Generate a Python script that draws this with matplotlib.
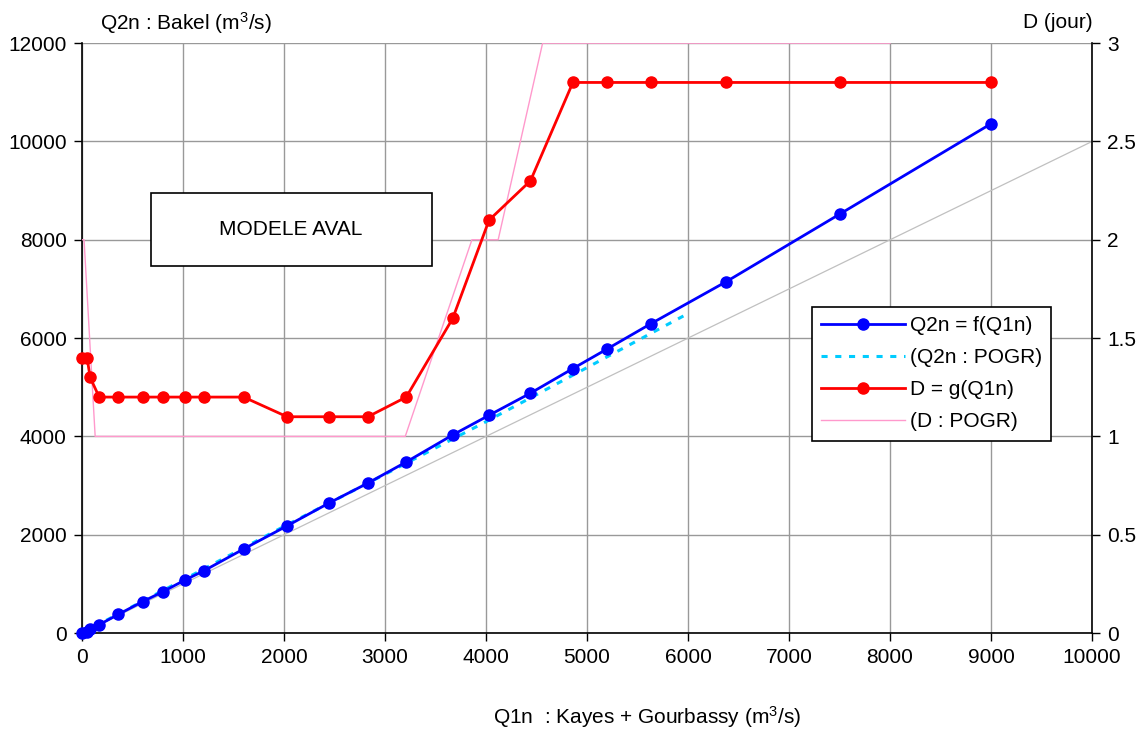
import matplotlib
matplotlib.use("Agg")
import matplotlib.pyplot as plt
from matplotlib.lines import Line2D
from matplotlib.patches import Rectangle

plt.rcParams["font.family"] = ["Liberation Sans", "DejaVu Sans"]
plt.rcParams["mathtext.fontset"] = "custom"
plt.rcParams["mathtext.rm"] = "Liberation Sans"
plt.rcParams["mathtext.it"] = "Liberation Sans:italic"

# Q1n (Kayes + Gourbassy) and the fitted relations
q1n = [0, 50, 80, 170, 360, 600, 800, 1020, 1210, 1600, 2030, 2450, 2830,
       3210, 3670, 4030, 4440, 4860, 5200, 5630, 6380, 7500, 9000]
q2n = [0, 30, 80, 170, 380, 640, 840, 1080, 1270, 1710, 2180, 2650, 3050,
       3480, 4030, 4430, 4880, 5380, 5780, 6290, 7150, 8520, 10360]
d_jour = [1.4, 1.4, 1.3, 1.2, 1.2, 1.2, 1.2, 1.2, 1.2, 1.2, 1.1, 1.1, 1.1,
          1.2, 1.6, 2.1, 2.3, 2.8, 2.8, 2.8, 2.8, 2.8, 2.8]

# POGR reference curves
pogr_q1 = [0, 1000, 2000, 3000, 4000, 5000, 6000]
pogr_q2 = [0, 1080, 2170, 3230, 4300, 5400, 6500]
pogr_d_q1 = [0, 20, 130, 3200, 3860, 4120, 4560, 8000]
pogr_d = [2, 2, 1, 1, 2, 2, 3, 3]

# first bisector Q2n = Q1n
diag = [0, 10000]

FS = 15

fig = plt.figure(figsize=(11.41, 7.31), dpi=100)
ax = fig.add_axes([0.0719, 0.134, 0.8852, 0.807])
ax2 = ax.twinx()

ax.plot(diag, diag, color="#c0c0c0", lw=0.9, zorder=2)
ax.plot(pogr_q1, pogr_q2, color="#00ccff", lw=2.2, ls=(0, (2, 2.5)), zorder=3)
ax.plot(q1n, q2n, color="#0000ff", lw=2, marker="o", ms=8, zorder=4, clip_on=False)

ax2.plot(pogr_d_q1, pogr_d, color="#ff99cc", lw=1, zorder=2)
ax2.plot(q1n, d_jour, color="#ff0000", lw=2, marker="o", ms=8, zorder=4, clip_on=False)

ax.set_xlim(0, 10000)
ax.set_ylim(0, 12000)
ax2.set_ylim(0, 3)
ax.set_xticks(range(0, 10001, 1000))
ax.set_yticks(range(0, 12001, 2000))
ax2.set_yticks([0, 0.5, 1, 1.5, 2, 2.5, 3])
ax2.set_yticklabels(["0", "0.5", "1", "1.5", "2", "2.5", "3"])

ax.grid(True, color="#999999", lw=1)
ax.set_axisbelow(True)
for a in (ax, ax2):
    a.spines["top"].set_visible(False)
    a.tick_params(labelsize=FS, length=6, width=1, color="black", pad=5)
ax.spines["right"].set_visible(False)
ax2.spines["left"].set_visible(False)
ax2.spines["bottom"].set_visible(False)
ax2.spines["right"].set_linewidth(1.2)
ax.spines["left"].set_linewidth(1.2)
ax.spines["bottom"].set_linewidth(1.2)

fig.text(0.567, 0.019, "Q1n  : Kayes + Gourbassy (m$^3$/s)", fontsize=FS, ha="center", va="center")
fig.text(0.088, 0.969, "Q2n : Bakel (m$^3$/s)", fontsize=FS, va="center")
fig.text(0.958, 0.969, "D (jour)", fontsize=FS, va="center", ha="right")

# model label box
ax2.add_patch(Rectangle((680, 1.866), 2780, 0.371, fc="white", ec="black", lw=1.2, zorder=6))
ax2.text(2070, 2.054, "MODELE AVAL", fontsize=FS, ha="center", va="center", zorder=7)

handles = [
    Line2D([], [], color="#0000ff", lw=2, marker="o", ms=8),
    Line2D([], [], color="#00ccff", lw=2.2, ls=(0, (2, 2.5))),
    Line2D([], [], color="#ff0000", lw=2, marker="o", ms=8),
    Line2D([], [], color="#ff99cc", lw=1),
]
labels = ["Q2n = f(Q1n)", "(Q2n : POGR)", "D = g(Q1n)", "(D : POGR)"]
leg = ax2.legend(handles, labels, loc="upper left", bbox_to_anchor=(0.7117, 0.580),
                 bbox_transform=fig.transFigure, fontsize=FS, handlelength=4.0,
                 handletextpad=0.25, borderpad=0.45, labelspacing=0.62,
                 fancybox=False, framealpha=1, edgecolor="black", borderaxespad=0)
leg.get_frame().set_linewidth(1.2)
leg.set_zorder(10)

fig.savefig("out.png", dpi=100)
